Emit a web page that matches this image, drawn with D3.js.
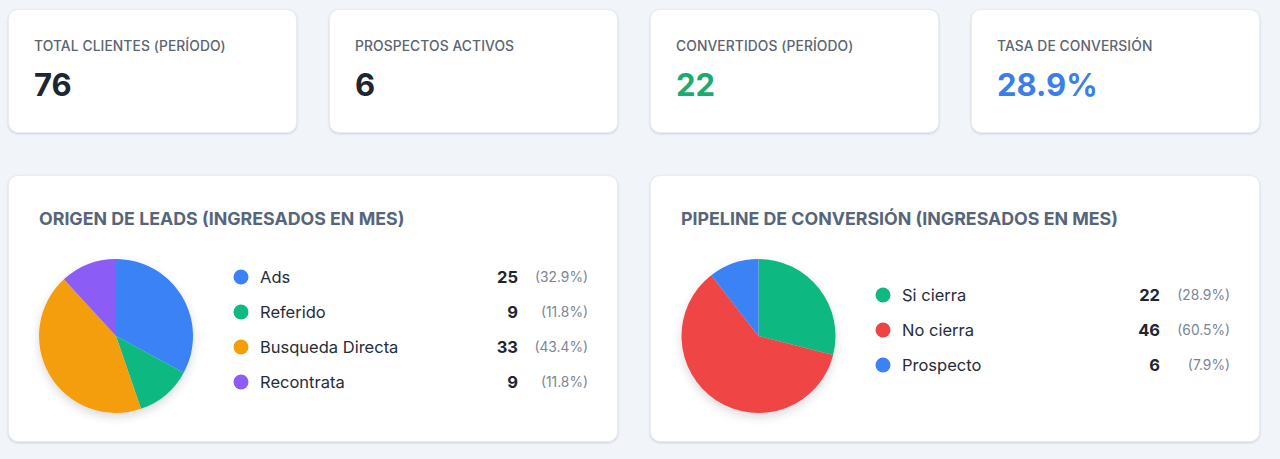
<!DOCTYPE html>
<html>
<head>
<meta charset="utf-8">
<script src="https://cdn.jsdelivr.net/npm/d3@7"></script>
<style>
  body { margin: 0; background: #f1f4f9; font-family: Inter, "Noto Sans", sans-serif; width: 1280px; height: 459px; overflow: hidden; position: relative; }
  .card { position: absolute; background: #fff; border-radius: 10px; box-shadow: 0 1px 3px rgba(15,23,42,0.10), 0 1px 2px rgba(15,23,42,0.06); border: 1px solid #e9edf3; box-sizing: border-box; }
  .kpi-label { position: absolute; left: 25px; top: 28px; font-size: 13.8px; color: #5b6472; font-weight: 500; letter-spacing: 0.1px; }
  .kpi-value { position: absolute; left: 25px; top: 56px; font-size: 31px; font-weight: 700; color: #1e2533; }
  .panel-title { position: absolute; left: 30px; top: 31.5px; font-size: 17.8px; font-weight: 700; color: #56657a; }
  svg { position: absolute; left: 0; top: 0; overflow: visible; }
</style>
</head>
<body>
<script>
// KPI cards
const kpiLabels = ["TOTAL CLIENTES (PERÍODO)", "PROSPECTOS ACTIVOS", "CONVERTIDOS (PERÍODO)", "TASA DE CONVERSIÓN"];
const kpiValues = ["76", "6", "22", "28.9%"];
const kpiColors = ["#1e2533", "#1e2533", "#1aab6f", "#3b7ee8"];

// Origen de leads
const leadCats = ["Ads", "Referido", "Busqueda Directa", "Recontrata"];
const leadVals = [25, 9, 33, 9];
const leadColors = ["#3b82f6", "#10b981", "#f59e0b", "#8b5cf6"];

// Pipeline de conversion (legend counts; % over the 76 clients)
const pipeCats = ["Si cierra", "No cierra", "Prospecto"];
const pipeVals = [22, 46, 6];
const pipeTotal = 76;
// slice sizes as drawn in the pie (prospect slice takes the remainder of 76)
const pipeSliceVals = [22, 46, 8];
const pipeColors = ["#10b981", "#ef4444", "#3b82f6"];

const body = d3.select("body");

kpiLabels.forEach((label, i) => {
  const card = body.append("div")
    .attr("class", "card")
    .style("left", (8 + i * 321) + "px")
    .style("top", "9px")
    .style("width", "289px")
    .style("height", "124px");
  card.append("div").attr("class", "kpi-label").text(label);
  card.append("div").attr("class", "kpi-value")
    .style("color", kpiColors[i])
    .text(kpiValues[i]);
});

const fmtPct = d3.format(".1f");

function drawPanel(left, cx, title, cats, vals, sliceVals, total, colors, legendTop) {
  const card = body.append("div")
    .attr("class", "card")
    .style("left", left + "px")
    .style("top", "175px")
    .style("width", "610px")
    .style("height", "267px");
  card.append("div").attr("class", "panel-title").text(title);

  const svg = card.append("svg").attr("width", 610).attr("height", 267);

  const defs = svg.append("defs");
  const fid = "sh" + left;
  defs.append("filter").attr("id", fid)
    .attr("x", "-20%").attr("y", "-20%").attr("width", "140%").attr("height", "150%")
    .append("feDropShadow")
    .attr("dx", 0).attr("dy", 4).attr("stdDeviation", 5)
    .attr("flood-color", "#0f172a").attr("flood-opacity", 0.15);

  const data = cats.map((c, i) => ({ cat: c, value: vals[i], slice: sliceVals[i], color: colors[i] }));
  const pie = d3.pie().sort(null).value(d => d.slice);
  const arc = d3.arc().innerRadius(0).outerRadius(77);

  const g = svg.append("g")
    .attr("transform", `translate(${cx},160)`)
    .attr("filter", `url(#${fid})`);
  g.selectAll("path")
    .data(pie(data))
    .join("path")
    .attr("d", arc)
    .attr("fill", d => d.data.color);

  const y = d3.scaleBand()
    .domain(cats)
    .range([legendTop, legendTop + 35 * cats.length]);

  const rows = svg.selectAll("g.row")
    .data(data)
    .join("g")
    .attr("class", "row")
    .attr("transform", d => `translate(0, ${y(d.cat) + y.bandwidth() / 2})`);

  rows.append("circle")
    .attr("cx", 232).attr("r", 7.5)
    .attr("fill", d => d.color);

  rows.append("text")
    .text(d => d.cat)
    .attr("x", 251)
    .attr("dy", "0.35em")
    .attr("font-size", 16.5)
    .attr("fill", "#262d3a");

  rows.append("text")
    .text(d => d.value)
    .attr("x", 509)
    .attr("dy", "0.35em")
    .attr("text-anchor", "end")
    .attr("font-size", 16.5)
    .attr("font-weight", 700)
    .attr("fill", "#1e2533");

  rows.append("text")
    .text(d => `(${fmtPct(d.value / total * 100)}%)`)
    .attr("x", 579)
    .attr("dy", "0.35em")
    .attr("text-anchor", "end")
    .attr("font-size", 13.8)
    .attr("fill", "#7b8494");
}

drawPanel(8, 107, "ORIGEN DE LEADS (INGRESADOS EN MES)", leadCats, leadVals, leadVals, d3.sum(leadVals), leadColors, 83.5);
drawPanel(650, 107.5, "PIPELINE DE CONVERSIÓN (INGRESADOS EN MES)", pipeCats, pipeVals, pipeSliceVals, pipeTotal, pipeColors, 101.5);
</script>
</body>
</html>
